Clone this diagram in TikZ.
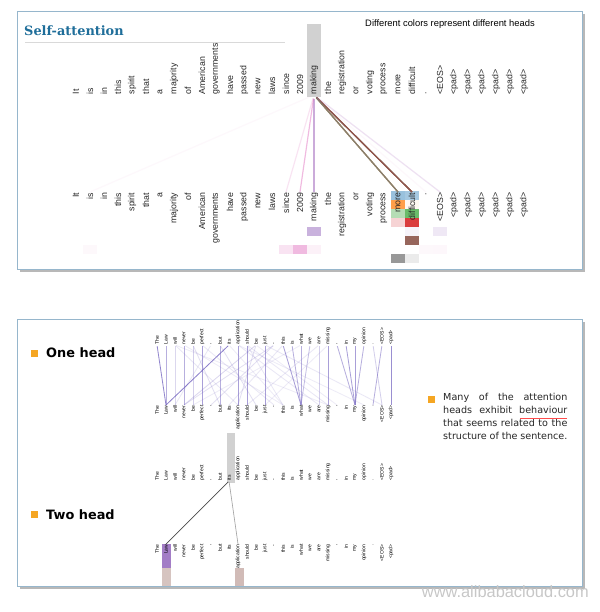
\documentclass[tikz,border=0pt]{standalone}
\usepackage{fontspec}
\setsansfont{Liberation Sans}
\newfontfamily\titlefont{DejaVu Serif}
\newfontfamily\notefont{DejaVu Sans}
\usetikzlibrary{positioning, calc}

% head colours
\definecolor{hd0}{HTML}{1F77B4}
\definecolor{hd1}{HTML}{FF7F0E}
\definecolor{hd2}{HTML}{2CA02C}
\definecolor{hd3}{HTML}{D62728}
\definecolor{hd4}{HTML}{9467BD}
\definecolor{hd5}{HTML}{8C564B}
\definecolor{hd6}{HTML}{E377C2}
\definecolor{hd7}{HTML}{7F7F7F}
\definecolor{framecol}{RGB}{150,182,204}
\definecolor{titleblue}{HTML}{1F6E9A}
\definecolor{bulletorange}{HTML}{F5A623}
\definecolor{oneheadcol}{RGB}{112,96,190}

\newcommand{\noteline}[1]{\makebox[106pt][s]{#1}}

\begin{document}
\begin{tikzpicture}[x=0.03cm, y=-0.03cm]
    \tikzset{
        panel/.style={draw=framecol, fill=white, line width=0.6pt},
        panel shadow/.style={fill=black!28},
        highlight/.style={fill=black!18},
        self top/.style={font=\fontsize{7.5}{8}\selectfont\sffamily, text=black!85, rotate=90, anchor=west, inner sep=0.5pt},
        self bot/.style={font=\fontsize{7.5}{8}\selectfont\sffamily, text=black!85, rotate=90, anchor=east, inner sep=0.5pt},
        tiny top/.style={font=\fontsize{4.3}{5}\selectfont\sffamily, rotate=90, anchor=west, inner sep=0.3pt},
        tiny bot/.style={font=\fontsize{4.3}{5}\selectfont\sffamily, rotate=90, anchor=east, inner sep=0.3pt},
        bullet/.style={fill=bulletorange, minimum size=7*0.03cm, inner sep=0pt},
        head label/.style={font=\fontsize{11}{13}\selectfont\notefont\bfseries, anchor=west, inner sep=0pt}
    }
    \useasboundingbox (0,0) rectangle (600,612);

    % frames
    \fill[panel shadow] (20,14) rectangle (585,272);
    \draw[panel] (17,11) rectangle (582,269);
    \fill[panel shadow] (20,322) rectangle (585,589);
    \draw[panel] (17,319) rectangle (582,586);

    % --- Self-attention panel ---
    \node[font=\fontsize{11}{13}\selectfont\titlefont\bfseries, text=titleblue, anchor=base west, inner sep=0pt] (title) at (24,35) {Self-attention};
    \draw[black!15, line width=0.8pt] (25,42) -- (285,42);
    \node[font=\fontsize{8}{10}\selectfont\sffamily, anchor=west, inner sep=0pt] (colornote) at (365,24) {Different colors represent different heads};

    \fill[highlight] (307,24) rectangle (321,97);

    % attention weights: head/token/weight
    \def\selfweights{0/23/0.45, 0/24/0.4, 1/23/0.75, 1/24/0.05, 2/23/0.35, 2/24/0.7,
        3/23/0.2, 3/24/0.9, 4/17/0.5, 4/24/0.08, 4/26/0.15, 5/24/0.9,
        6/1/0.05, 6/15/0.2, 6/16/0.5, 6/17/0.1, 6/25/0.05, 6/26/0.06, 7/23/0.8, 7/24/0.15}
    \foreach \h/\i/\w in \selfweights {
        \fill[hd\h, opacity=\w] (69+14*\i,191+9*\h) rectangle (83+14*\i,200+9*\h);
    }

    \foreach \w [count=\i from 0] in {It,is,in,this,spirit,that,a,majority,of,American,governments,have,passed,new,laws,since,2009,making,the,registration,or,voting,process,more,difficult,.,<EOS>,<pad>,<pad>,<pad>,<pad>,<pad>,<pad>} {
        \node[self top] (selfTop\i) at (76+14*\i,95) {\w};
        \node[self bot] (selfBot\i) at (76+14*\i,192) {\w};
    }

    \foreach \h/\i/\w in \selfweights {
        \draw[hd\h, opacity=\w, line width=1pt, shorten <=3pt] (selfTop17.west) -- (selfBot\i.east);
    }

    % --- One head / Two head panel ---
    \node[bullet] (oneBullet) at (34.5,353) {};
    \node[head label] (oneLabel) at (46,353) {One head};
    \node[bullet] (twoBullet) at (34.5,514.5) {};
    \node[head label] (twoLabel) at (46,514.5) {Two head};

    \fill[highlight] (227,433) rectangle (235,483);
    \fill[hd4, opacity=0.85] (161.5,544) rectangle (170.5,568);
    \fill[hd5, opacity=0.35] (161.5,568) rectangle (170.5,586);
    \fill[hd5, opacity=0.4] (234.5,568) rectangle (243.5,586);

    \foreach \w [count=\i from 0] in {The,Law,will,never,be,perfect,{,},but,its,application,should,be,just,-,this,is,what,we,are,missing,{,},in,my,opinion,.,<EOS>,<pad>} {
        \node[tiny top] (oneTop\i) at (157+9*\i,345) {\w};
        \node[tiny bot] (oneBot\i) at (157+9*\i,405) {\w};
        \node[tiny top] (twoTop\i) at (157+9*\i,481) {\w};
        \node[tiny bot] (twoBot\i) at (157+9*\i,544) {\w};
    }

    % one head: from/to/weight
    \foreach \s/\t/\w in {0/1/0.75, 1/1/0.5, 2/2/0.25, 3/3/0.5, 4/4/0.3, 5/5/0.6, 7/7/0.5, 8/1/0.8,
        9/9/0.6, 10/10/0.6, 11/3/0.25, 12/12/0.6, 13/3/0.2, 14/16/0.6, 15/16/0.5, 16/16/0.5,
        17/16/0.4, 18/18/0.3, 19/19/0.6, 20/22/0.5, 21/22/0.6, 22/22/0.6, 23/22/0.5, 24/25/0.3,
        25/24/0.5, 26/26/0.7,
        2/9/0.15, 2/19/0.12, 3/14/0.12, 4/7/0.2, 5/13/0.15, 9/18/0.15, 9/23/0.12, 10/19/0.15,
        10/14/0.15, 11/20/0.12, 12/25/0.15, 13/6/0.2, 14/8/0.15, 16/4/0.12, 18/10/0.15,
        19/12/0.12, 7/11/0.2, 8/14/0.12, 6/2/0.15, 11/9/0.2} {
        \draw[oneheadcol, opacity=\w, line width=0.7pt, shorten <=1pt] (oneTop\s.west) -- (oneBot\t.east);
    }

    % two head
    \draw[black!70, line width=0.6pt, shorten <=1pt] (twoTop8.west) -- (twoBot1.east);
    \draw[black!35, line width=0.6pt, shorten <=1pt] (twoTop8.west) -- (twoBot9.east);

    % note
    \node[bullet] (noteBullet) at (431.5,399.5) {};
    \node[font=\fontsize{8.2}{11.1}\selectfont\notefont, text=black!85, anchor=north west, inner sep=0pt, align=left] (note) at (443,393)
        {\noteline{Many of the attention}\\
         \noteline{heads exhibit behaviour}\\
         \noteline{that seems related to the}\\
         \noteline{structure of the sentence.}};
    \draw[red!70, line width=0.4pt] (520,418) -- (567,418);

    \node[font=\fontsize{14}{14}\selectfont\sffamily, text=black!22, anchor=east, inner sep=0pt] (watermark) at (589,592) {www.alibabacloud.com};
\end{tikzpicture}
\end{document}
